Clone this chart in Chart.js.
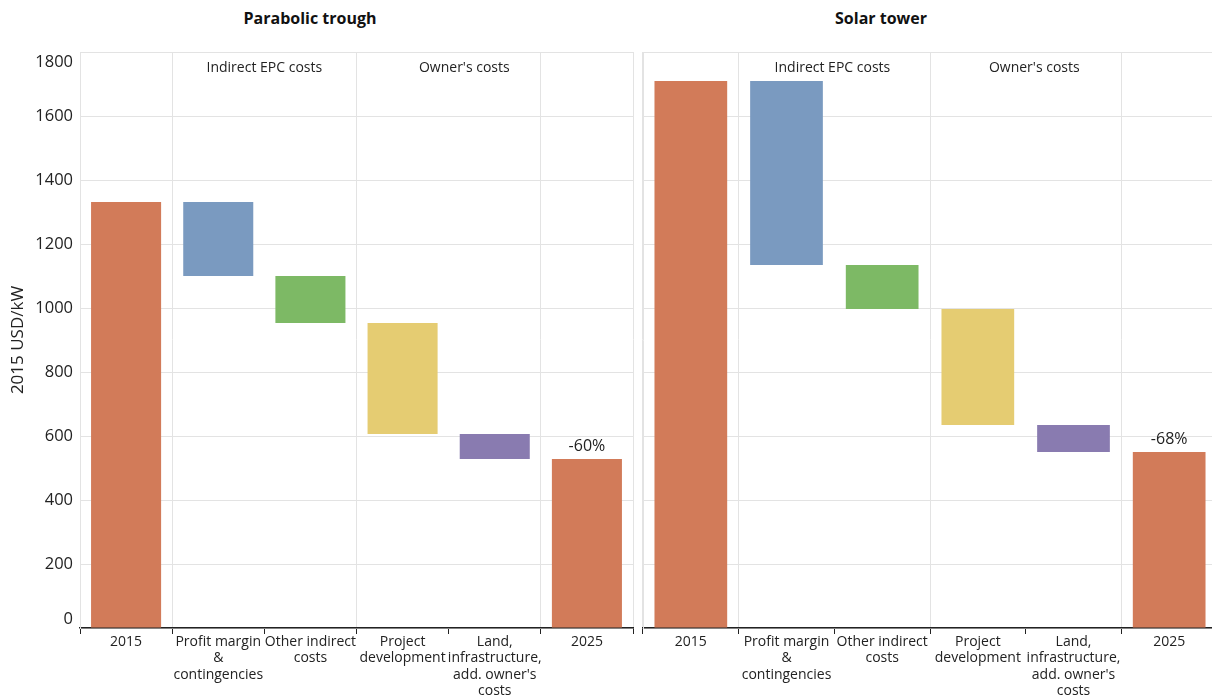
<!DOCTYPE html>
<html><head><meta charset="utf-8">
<script src="https://cdn.jsdelivr.net/npm/chart.js@4/dist/chart.umd.min.js"></script>
<style>
html,body{margin:0;padding:0;background:#fff;overflow:hidden;width:1212px;height:697px;position:relative;font-family:'Open Sans',sans-serif;}
canvas{position:absolute;top:0;}
#c1{left:0}
#c2{left:636px}
.ttl{position:absolute;top:7px;font-weight:bold;font-size:16px;color:#111;transform:translateX(-50%);white-space:nowrap;line-height:22px}
</style></head><body>
<div class="ttl" style="left:310px">Parabolic trough</div>
<div class="ttl" style="left:881px">Solar tower</div>
<canvas id="c1" width="640" height="697"></canvas>
<canvas id="c2" width="584" height="697"></canvas>
<script>
const categories = [["2015"], ["Profit margin","&","contingencies"], ["Other indirect","costs"], ["Project","development"], ["Land,","infrastructure,","add. owner's","costs"], ["2025"]];
const barColors = ['#D27B59','#7A9AC0','#7DB965','#E5CC72','#897BB0','#D27B59'];
const groupLabels = ["Indirect EPC costs", "Owner's costs"];
const troughBase = [0, 1100, 953, 606, 528, 0];
const troughTop  = [1331, 1331, 1100, 953, 606, 528];
const towerBase  = [0, 1134, 997, 634, 550, 0];
const towerTop   = [1709, 1709, 1134, 997, 634, 550];
const troughChange = "-60%";
const towerChange = "-68%";
const yMin = 0, yMax = 1800, yStep = 200;
const yTitle = "2015 USD/kW";

const FONT = "'Open Sans', sans-serif";
const GRID = '#e3e3e3';
const INK = '#222';

function overlay(changeLabel, showY, groupAt) {
  return {
    id: 'overlay',
    afterDatasetsDraw(chart) {
      const ctx = chart.ctx, xs = chart.scales.x, ys = chart.scales.y, area = chart.chartArea;
      ctx.save();
      ctx.fillStyle = INK;
      ctx.textAlign = 'center'; ctx.textBaseline = 'middle';
      ctx.font = "14px " + FONT;
      groupLabels.forEach((t, i) => ctx.fillText(t, xs.getPixelForValue(groupAt[i]), area.top + 16));
      const bar = chart.getDatasetMeta(0).data[5];
      ctx.font = "16px " + FONT;
      ctx.fillText(changeLabel, bar.x, bar.y - 13);
      if (showY) {
        ctx.textAlign = 'right';
        ctx.font = "16.5px " + FONT;
        ys.ticks.forEach(t => {
          let py = ys.getPixelForValue(t.value);
          py = Math.min(Math.max(py, area.top + 10), area.bottom - 9);
          ctx.fillText(String(t.value), ys.right - 7, py);
        });
      }
      ctx.restore();
    }
  };
}

function makeChart(id, base, top, change, showY, groupAt, padRight, yWidth) {
  return new Chart(document.getElementById(id), {
    type: 'bar',
    data: {
      labels: categories,
      datasets: [{
        data: base.map((b, i) => [b, top[i]]),
        backgroundColor: barColors,
        borderWidth: 0,
        categoryPercentage: 1,
        barPercentage: 0.76
      }]
    },
    options: {
      responsive: false,
      animation: false,
      layout: { padding: { top: 52, right: padRight, left: 0, bottom: 0 } },
      plugins: { legend: { display: false }, tooltip: { enabled: false }, title: { display: false } },
      scales: {
        x: {
          offset: true,
          grid: {
            offset: true,
            color: c => (c.index === undefined || c.index === 0 || c.index === 1 || c.index === 3 || c.index === 5) ? GRID : 'rgba(0,0,0,0)',
            tickColor: INK, tickLength: 6, lineWidth: 1
          },
          border: { color: INK, width: 1.5 },
          ticks: { font: { family: FONT, size: 14, lineHeight: 1.16 }, color: INK, maxRotation: 0, minRotation: 0, autoSkip: false, padding: 0 },
          afterFit: s => { s.height = 69; }
        },
        y: {
          min: yMin, max: yMax,
          ticks: { stepSize: yStep, display: false },
          grid: { color: GRID, drawTicks: false },
          border: { color: GRID },
          title: { display: showY, text: yTitle, font: { family: FONT, size: 17 }, color: INK, padding: { top: 8, bottom: 0 } },
          afterFit: s => { s.width = yWidth; }
        }
      }
    },
    plugins: [overlay(change, showY, groupAt)]
  });
}

makeChart('c1', troughBase, troughTop, troughChange, true, [1.5, 3.67], 7, 80);
makeChart('c2', towerBase, towerTop, towerChange, false, [1.48, 3.59], 3, 7);
</script>
</body></html>
